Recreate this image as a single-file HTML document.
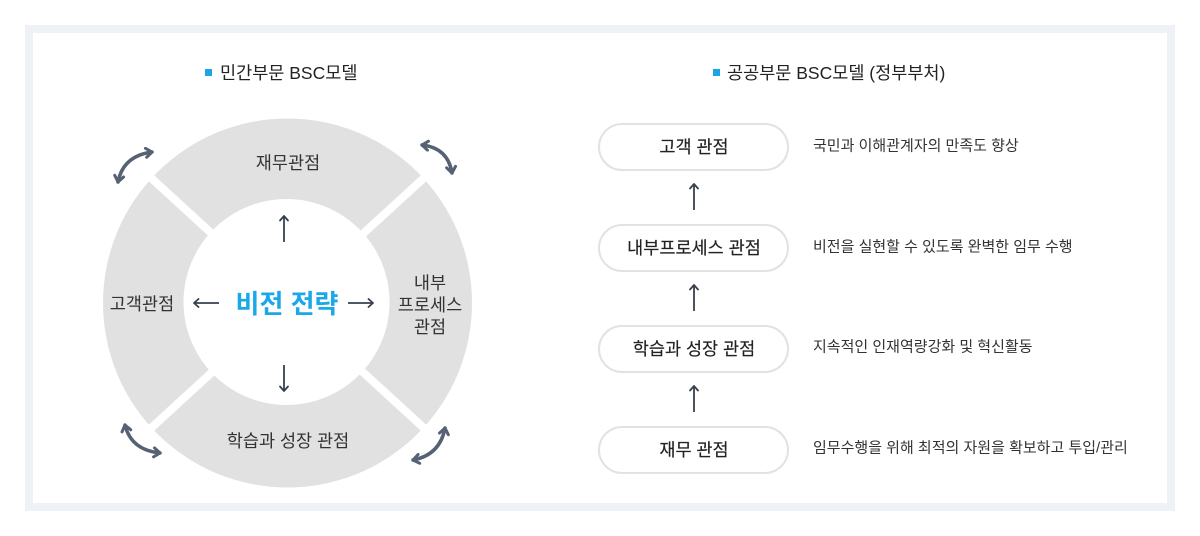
<!DOCTYPE html>
<html><head><meta charset="utf-8">
<style>
html,body{margin:0;padding:0;background:#fff;}
body{width:1200px;height:536px;overflow:hidden;}
svg{display:block;}
text{font-family:"Liberation Sans","Noto Sans CJK KR",sans-serif;}
</style></head>
<body>
<svg width="1200" height="536" viewBox="0 0 1200 536" xmlns="http://www.w3.org/2000/svg">
<defs>
<marker id="ch" viewBox="0 0 12 12" refX="9" refY="6" markerWidth="12" markerHeight="12" markerUnits="userSpaceOnUse" orient="auto-start-reverse">
<path d="M3,1.5 L9,6 L3,10.5" fill="none" stroke="#566274" stroke-width="3" stroke-linecap="round" stroke-linejoin="round"/>
</marker>
<marker id="sm" viewBox="0 0 10 10" refX="8" refY="5" markerWidth="10" markerHeight="10" markerUnits="userSpaceOnUse" orient="auto">
<path d="M3.5,1 L8,5 L3.5,9" fill="none" stroke="#37404d" stroke-width="1.8" stroke-linecap="round" stroke-linejoin="round"/>
</marker>
</defs>
<!-- frame -->
<rect x="29" y="29" width="1142" height="478" fill="#fff" stroke="#eef2f6" stroke-width="8"/>

<!-- titles -->
<rect x="205" y="69" width="7" height="7" fill="#1aa6e6"/>
<text x="220" y="73" font-size="17.5" fill="#222" dominant-baseline="central">민간부문 BSC모델</text>
<rect x="713" y="69" width="7" height="7" fill="#1aa6e6"/>
<text x="727" y="73" font-size="17.5" fill="#222" dominant-baseline="central">공공부문 BSC모델 (정부부처)</text>

<!-- ring -->
<circle cx="287.5" cy="303" r="184.5" fill="#e1e1e1"/>
<g stroke="#fff" stroke-width="8">
<line x1="137" y1="165" x2="438" y2="441"/>
<line x1="438" y1="165" x2="137" y2="441"/>
</g>
<circle cx="286.5" cy="302" r="103" fill="#fff"/>

<!-- curved arrows -->
<g fill="none" stroke="#566274" stroke-width="3.5" stroke-linecap="round">
<path d="M118,182 Q123,156 152,152" marker-start="url(#ch)" marker-end="url(#ch)"/>
<path d="M422,145 Q448,148 452,173" marker-start="url(#ch)" marker-end="url(#ch)"/>
<path d="M125,425 Q131,450 160,453" marker-start="url(#ch)" marker-end="url(#ch)"/>
<path d="M413,460 Q440,455 445,428" marker-start="url(#ch)" marker-end="url(#ch)"/>
</g>

<!-- ring texts -->
<g font-size="17.5" fill="#333" text-anchor="middle" dominant-baseline="central">
<text x="288" y="163">재무관점</text>
<text x="142" y="304">고객관점</text>
<text x="430" y="283">내부</text>
<text x="430" y="305">프로세스</text>
<text x="430" y="327">관점</text>
<text x="288" y="441">학습과 성장 관점</text>
</g>
<text x="287" y="304" font-size="26" font-weight="bold" fill="#1aa8e8" text-anchor="middle" dominant-baseline="central">비전 전략</text>

<!-- inner arrows -->
<g stroke="#37404d" stroke-width="1.8" fill="none">
<line x1="219" y1="303" x2="194" y2="303" marker-end="url(#sm)"/>
<line x1="348" y1="303" x2="373" y2="303" marker-end="url(#sm)"/>
<line x1="284" y1="242" x2="284" y2="216" marker-end="url(#sm)"/>
<line x1="284" y1="365" x2="284" y2="391" marker-end="url(#sm)"/>
</g>

<!-- right pills -->
<g fill="#fff" stroke="#e2e2e2" stroke-width="2">
<rect x="599" y="124" width="189" height="46" rx="23"/>
<rect x="599" y="225" width="189" height="46" rx="23"/>
<rect x="599" y="326" width="189" height="46" rx="23"/>
<rect x="599" y="427" width="189" height="46" rx="23"/>
</g>
<g font-size="17.5" fill="#222" stroke="#222" stroke-width="0.15" text-anchor="middle" dominant-baseline="central">
<text x="694" y="147">고객 관점</text>
<text x="694" y="248">내부프로세스 관점</text>
<text x="694" y="349">학습과 성장 관점</text>
<text x="694" y="450">재무 관점</text>
</g>
<g stroke="#37404d" stroke-width="1.8" fill="none">
<line x1="694" y1="210" x2="694" y2="184" marker-end="url(#sm)"/>
<line x1="694" y1="311" x2="694" y2="285" marker-end="url(#sm)"/>
<line x1="694" y1="412" x2="694" y2="386" marker-end="url(#sm)"/>
</g>
<g font-size="15" fill="#333" dominant-baseline="central">
<text x="813" y="146">국민과 이해관계자의 만족도 향상</text>
<text x="813" y="247">비전을 실현할 수 있도록 완벽한 임무 수행</text>
<text x="813" y="347">지속적인 인재역량강화 및 혁신활동</text>
<text x="813" y="448">임무수행을 위해 최적의 자원을 확보하고 투입/관리</text>
</g>
</svg>
</body></html>
